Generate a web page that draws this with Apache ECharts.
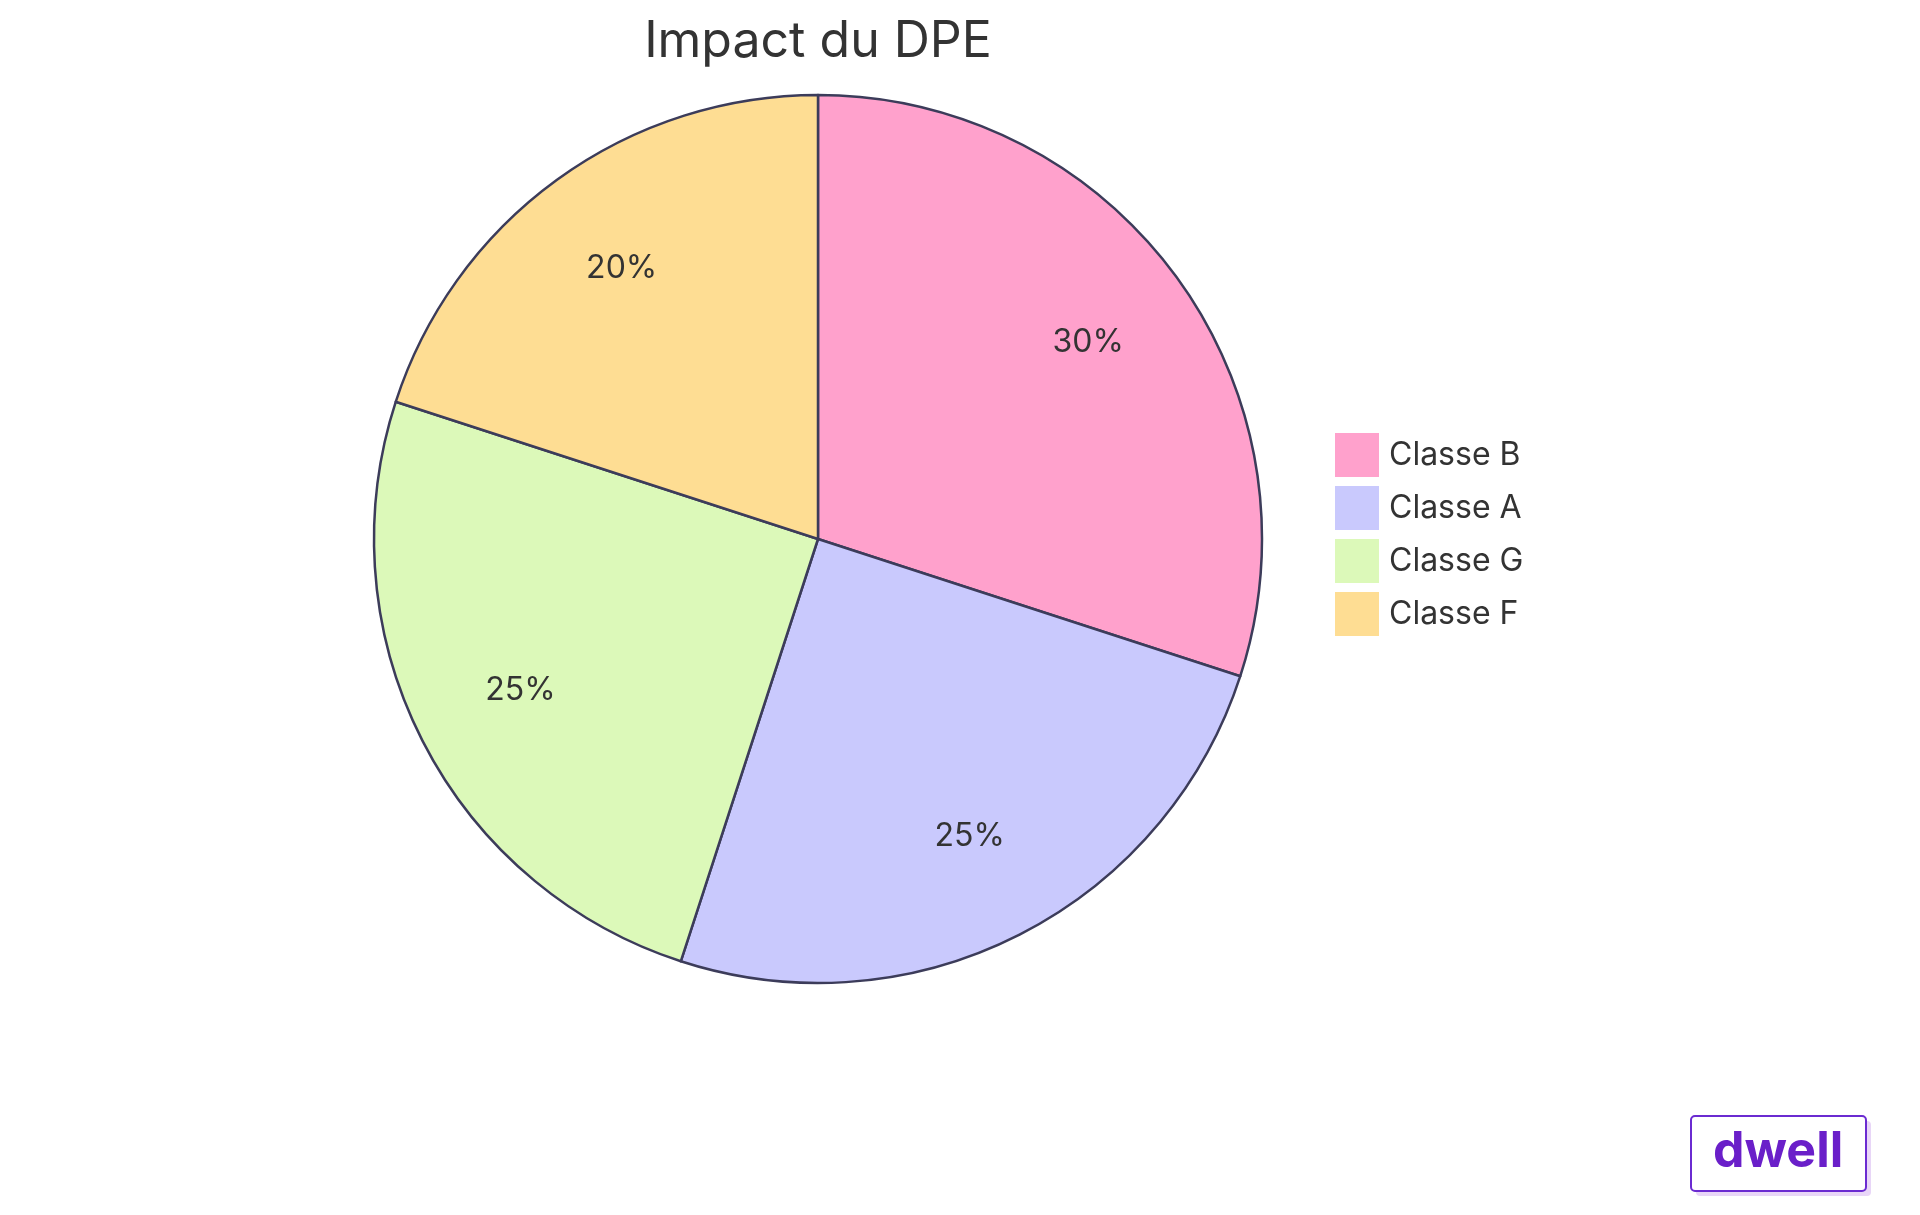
<!DOCTYPE html>
<html>
<head>
<meta charset="utf-8">
<script src="https://cdn.jsdelivr.net/npm/echarts@6/dist/echarts.min.js"></script>
<style>html,body{margin:0;padding:0;background:#fff}</style>
</head>
<body>
<div id="chart" style="width:1920px;height:1215px;"></div>
<script type="text/javascript">
	var categories = ['Classe B', 'Classe A', 'Classe G', 'Classe F'];
	var values = [30, 25, 25, 20];
	var colors = ['#ffa1cc', '#c9c9fd', '#dcf9b9', '#fedd93'];

	var pieData = categories.map(function (name, i) {
		return { name: name, value: values[i], itemStyle: { color: colors[i] } };
	});

	var myChart = echarts.init(document.getElementById('chart'));
	myChart.setOption({
		animation: false,
		textStyle: { fontFamily: 'Inter' },
		title: {
			text: 'Impact du DPE',
			left: 813, top: 12, textAlign: 'center',
			textStyle: { fontSize: 50, fontWeight: 'normal', color: '#333', fontFamily: 'Inter' }
		},
		legend: {
			orient: 'vertical', left: 1330, top: 428,
			itemWidth: 44, itemHeight: 44, itemGap: 9,
			icon: 'rect',
			itemStyle: { borderWidth: 0 },
			textStyle: { fontSize: 32, color: '#333', padding: [0, 0, 0, 5] },
			data: categories
		},
		series: [{
			type: 'pie',
			center: [818, 539],
			radius: [0, 444],
			startAngle: 90,
			clockwise: true,
			label: { show: false },
			labelLine: { show: false },
			itemStyle: { borderColor: '#3c3c5a', borderWidth: 2.5 },
			emphasis: { disabled: true },
			data: pieData
		}, {
			type: 'pie',
			center: [818, 539],
			radius: [218, 444],
			startAngle: 90,
			clockwise: true,
			silent: true,
			itemStyle: { color: 'transparent' },
			label: { show: true, position: 'inside', formatter: '{c}%', fontSize: 32, color: '#333' },
			labelLine: { show: false },
			data: values.map(function (v, i) { return { name: categories[i] + ' ', value: v }; })
		}],
		graphic: [{
			type: 'rect', left: 1696, top: 1121,
			shape: { width: 175, height: 75, r: 4 },
			style: { fill: '#e8d6f7' }
		}, {
			type: 'rect', left: 1690, top: 1115,
			shape: { width: 175, height: 75, r: 4 },
			style: { fill: '#fff', stroke: '#6b2bd1', lineWidth: 2 }
		}, {
			type: 'text', left: 1713, top: 1127,
			style: { text: 'dwell', fontSize: 50, fontWeight: 'bold', fill: '#6a1fc9', fontFamily: 'Inter' }
		}]
	});
</script>
</body>
</html>
